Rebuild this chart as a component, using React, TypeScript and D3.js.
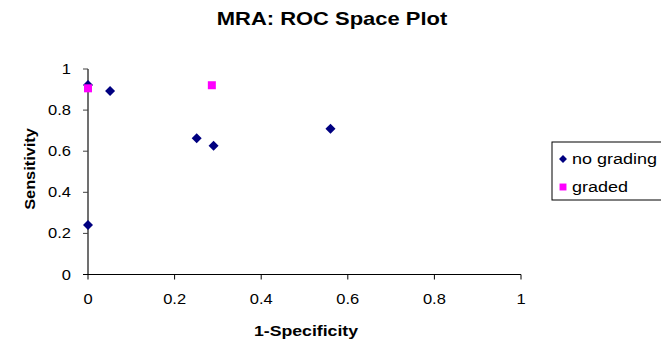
import * as d3 from "d3";
import { useEffect, useRef } from "react";

const noGradingX = [0, 0.051, 0.251, 0.29, 0, 0.56];
const noGradingY = [0.922, 0.893, 0.663, 0.627, 0.241, 0.709];
const gradedX = [0, 0.286];
const gradedY = [0.906, 0.921];
const tickValues = [0, 0.2, 0.4, 0.6, 0.8, 1];
const seriesNames = ["no grading", "graded"];
const seriesColors = ["#000080", "#ff00ff"];

const width = 661;
const height = 342;

export default function App() {
  const ref = useRef<SVGSVGElement>(null);

  useEffect(() => {
    const svg = d3.select(ref.current);
    svg.selectAll("*").remove();

    const x = d3.scaleLinear().domain([0, 1]).range([88, 521]);
    const y = d3.scaleLinear().domain([0, 1]).range([274.5, 69]);
    const font = "'Liberation Sans', Arial, sans-serif";

    // title (text in the original is a bit wide, so stretch it horizontally)
    svg
      .append("text")
      .attr("transform", "translate(332,25) scale(1.22,1)")
      .attr("text-anchor", "middle")
      .attr("font-family", font)
      .attr("font-weight", "bold")
      .attr("font-size", 18)
      .text("MRA: ROC Space Plot");

    // y axis
    const yAxis = svg.append("g").attr("transform", `translate(${x(0)},0)`);
    yAxis
      .append("line")
      .attr("y1", y(0))
      .attr("y2", y(1))
      .attr("stroke", "#404040")
      .attr("stroke-width", 1.5);
    yAxis
      .selectAll(".yt")
      .data(tickValues)
      .enter()
      .append("line")
      .attr("x1", -5)
      .attr("x2", 0)
      .attr("y1", (d) => y(d))
      .attr("y2", (d) => y(d))
      .attr("stroke", "#404040");
    yAxis
      .selectAll(".yl")
      .data(tickValues)
      .enter()
      .append("text")
      .attr("transform", (d) => `translate(-17,${y(d) + 5}) scale(1.1,1)`)
      .attr("text-anchor", "end")
      .attr("font-family", font)
      .attr("font-size", 15)
      .text((d) => d3.format("")(d));

    // x axis
    const xAxis = svg.append("g").attr("transform", `translate(0,${y(0)})`);
    xAxis
      .append("line")
      .attr("x1", x(0) - 5)
      .attr("x2", x(1))
      .attr("stroke", "#000")
      .attr("stroke-width", 1.2);
    xAxis
      .selectAll(".xt")
      .data(tickValues)
      .enter()
      .append("line")
      .attr("x1", (d) => x(d))
      .attr("x2", (d) => x(d))
      .attr("y1", 0)
      .attr("y2", 5)
      .attr("stroke", "#000");
    xAxis
      .selectAll(".xl")
      .data(tickValues)
      .enter()
      .append("text")
      .attr("transform", (d) => `translate(${x(d)},29) scale(1.1,1)`)
      .attr("text-anchor", "middle")
      .attr("font-family", font)
      .attr("font-size", 15)
      .text((d) => d3.format("")(d));

    // axis titles
    svg
      .append("text")
      .attr("transform", "translate(306,336) scale(1.18,1)")
      .attr("text-anchor", "middle")
      .attr("font-family", font)
      .attr("font-weight", "bold")
      .attr("font-size", 15)
      .text("1-Specificity");
    svg
      .append("text")
      .attr("transform", "translate(35,169) rotate(-90) scale(1.09,1)")
      .attr("text-anchor", "middle")
      .attr("font-family", font)
      .attr("font-weight", "bold")
      .attr("font-size", 15)
      .text("Sensitivity");

    // points (graded drawn last, it sits on top)
    const diamond = d3.symbol(d3.symbolDiamond2, 64);
    const square = d3.symbol(d3.symbolSquare, 64);

    svg
      .append("g")
      .selectAll("path")
      .data(d3.range(noGradingX.length))
      .enter()
      .append("path")
      .attr("d", diamond)
      .attr("transform", (i) => `translate(${x(noGradingX[i])},${y(noGradingY[i])})`)
      .attr("fill", seriesColors[0]);

    svg
      .append("g")
      .selectAll("path")
      .data(d3.range(gradedX.length))
      .enter()
      .append("path")
      .attr("d", square)
      .attr("transform", (i) => `translate(${x(gradedX[i])},${y(gradedY[i])})`)
      .attr("fill", seriesColors[1]);

    // legend
    const legend = svg.append("g");
    legend
      .append("rect")
      .attr("x", 552)
      .attr("y", 142)
      .attr("width", 115)
      .attr("height", 58)
      .attr("fill", "white")
      .attr("stroke", "#000");
    const items = legend
      .selectAll(".item")
      .data(seriesNames)
      .enter()
      .append("g")
      .attr("transform", (d, i) => `translate(563,${159 + i * 28})`);
    items
      .append("path")
      .attr("d", (d, i) => (i === 0 ? d3.symbol(d3.symbolDiamond2, 40)() : d3.symbol(d3.symbolSquare, 48)()))
      .attr("fill", (d, i) => seriesColors[i]);
    items
      .append("text")
      .attr("transform", "translate(9,5) scale(1.2,1)")
      .attr("font-family", font)
      .attr("font-size", 15)
      .text((d) => d);
  }, []);

  return (
    <svg
      ref={ref}
      width={width}
      height={height}
      style={{ position: "absolute", left: 0, top: 0, background: "white" }}
    />
  );
}
